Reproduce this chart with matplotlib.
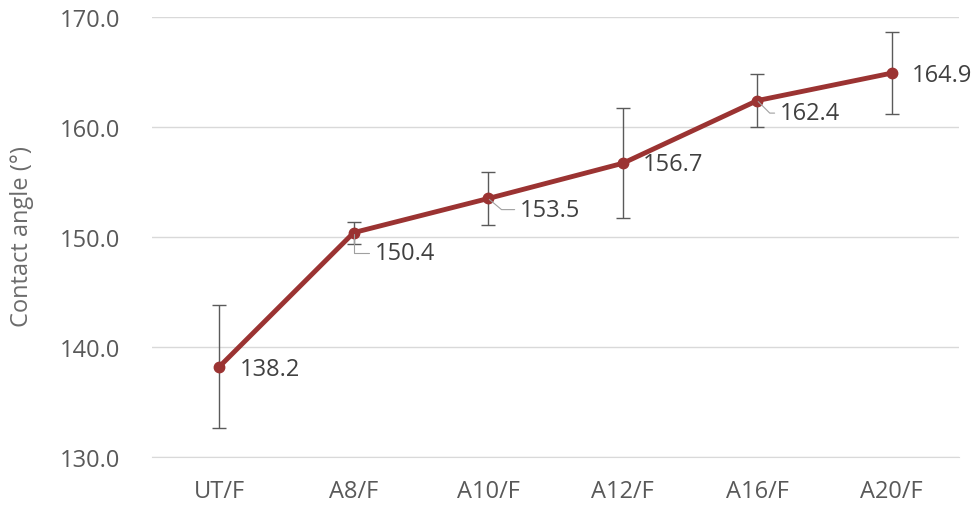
import matplotlib
matplotlib.use("Agg")
import matplotlib.pyplot as plt
import numpy as np

categories = ["UT/F", "A8/F", "A10/F", "A12/F", "A16/F", "A20/F"]
angles = [138.2, 150.4, 153.5, 156.7, 162.4, 164.9]
errors = [5.6, 1.0, 2.4, 5.0, 2.4, 3.7]
yticks = [130.0, 140.0, 150.0, 160.0, 170.0]

# label offsets in points (dx, dy) and leader-line bend angle (None = no leader)
label_offsets = [(14.5, -1.5), (15, -14.5), (23, -8), (14.5, -0.5), (16.5, -9), (14.5, -1.5)]
leader_angles = [None, 90, -40, None, -45, None]

plt.rcParams['font.family'] = ['Open Sans', 'DejaVu Sans']
text_color = "#595959"
label_color = "#404040"
line_color = "#9B3332"
fs = 17

fig = plt.figure(figsize=(9.79, 5.10), dpi=100)
ax = fig.add_axes([152/979, (510-458)/510, (959-152)/979, (458-18)/510])

x = np.arange(len(categories))
ax.errorbar(x, angles, yerr=errors, fmt='none', ecolor="#5a5a5a",
            elinewidth=1.0, capsize=5, capthick=1.0, zorder=2)
ax.plot(x, angles, color=line_color, lw=3.5, marker='o', ms=7.5,
        solid_capstyle='round', zorder=3)

for xi, yi, (dx, dy), ang in zip(x, angles, label_offsets, leader_angles):
    kw = dict(xy=(xi, yi), xytext=(dx, dy), textcoords='offset points',
              ha='left', va='center', fontsize=fs, color=label_color)
    if ang is not None:
        kw['arrowprops'] = dict(arrowstyle='-', color="#a0a0a0", lw=0.8,
                                shrinkA=2, shrinkB=1,
                                connectionstyle=f"angle,angleA=0,angleB={ang},rad=0")
    ax.annotate(f"{yi:.1f}", **kw)

ax.set_xlim(-0.5, len(categories) - 0.5)
ax.set_ylim(130, 170)
ax.set_yticks(yticks)
ax.set_yticklabels([f"{v:.1f}" for v in yticks])
ax.set_xticks(x)
ax.set_xticklabels(categories)
ax.tick_params(axis='both', length=0, labelsize=fs, colors=text_color)
ax.tick_params(axis='y', pad=23)
ax.tick_params(axis='x', pad=16)
ax.grid(axis='y', color="#d9d9d9", lw=1.0)
ax.set_axisbelow(True)
for s in ["top", "right", "left"]:
    ax.spines[s].set_visible(False)
ax.spines["bottom"].set_color("#d9d9d9")

fig.text(22/979, (510-237)/510, "Contact angle (°)", rotation=90,
         ha='center', va='center', fontsize=17, color="#6b6b6b")

fig.savefig("out.png", dpi=100)
